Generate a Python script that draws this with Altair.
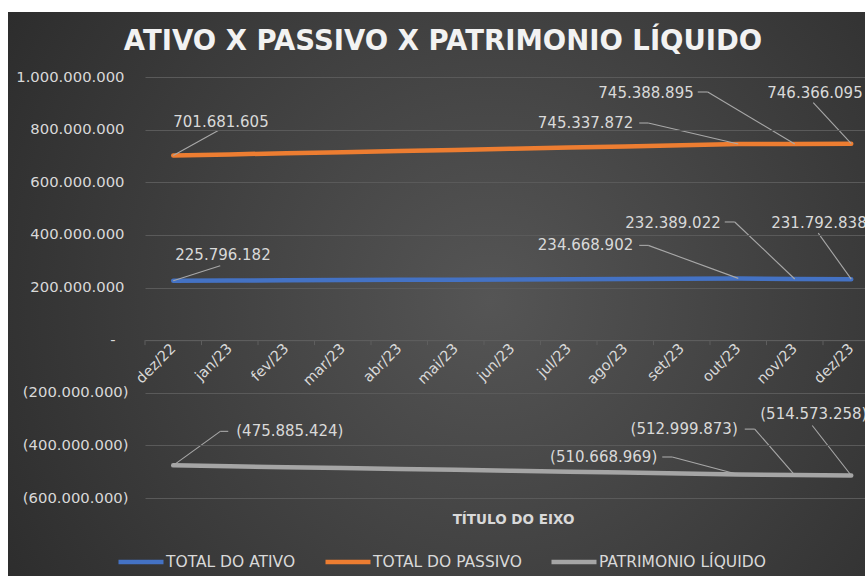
import altair as alt
import pandas as pd

# ---------------- data ----------------
meses = ["dez/22", "jan/23", "fev/23", "mar/23", "abr/23", "mai/23", "jun/23",
         "jul/23", "ago/23", "set/23", "out/23", "nov/23", "dez/23"]
total_ativo = [225796182, 226600000, 227400000, 228300000, 229100000, 229900000,
               230800000, 231700000, 232600000, 233700000, 234668902, 232389022, 231792838]
total_passivo = [701681605, 705900000, 710200000, 714100000, 718600000, 722800000,
                 727300000, 731600000, 736000000, 740700000, 745337872, 745388895, 746366095]
patrimonio_liquido = [-475885424, -479300000, -482800000, -485800000, -489500000, -492900000,
                      -496500000, -499900000, -503400000, -507000000, -510668969, -512999873, -514573258]
series = ["TOTAL DO ATIVO", "TOTAL DO PASSIVO", "PATRIMONIO LÍQUIDO"]
y_ticks = [-600000000, -400000000, -200000000, 0, 200000000, 400000000,
           600000000, 800000000, 1000000000]

# ---------------- styles / layout ----------------
colors = ["#4472C4", "#ED7D31", "#A5A5A5"]
FONT = "DejaVu Sans"
TXT = "#d9d9d9"
W, H = 720, 421
STEP = 56.5                     # px per category
XR = STEP * len(meses)          # full category range (extends past right edge)
Y0, Y1 = y_ticks[0], y_ticks[-1]
PXY = H / (Y1 - Y0)             # px per unit value
ZERO_PX = (Y1 - 0) * PXY

# data label placement (pixel offsets from the labelled point)
# (series index, month index, align, text dx, text dy, leader vertices)
label_layout = [
    (1, 0, "left", 0, -33.5, [(45, -25)]),
    (1, 10, "right", -105, -21, [(-90, -21), (-99, -21)]),
    (1, 11, "right", -101, -51, [(-87, -52), (-97, -52)]),
    (1, 12, "left", -84, -51, [(-38, -41)]),
    (0, 0, "left", 2, -26, [(47, -15)]),
    (0, 10, "right", -105, -33, [(-90, -33), (-99, -33)]),
    (0, 11, "right", -74, -56, [(-60, -57), (-70, -57)]),
    (0, 12, "left", -80, -56, [(-33, -46)]),
    (2, 0, "left", 63, -34, [(47, -34), (55, -34)]),
    (2, 10, "right", -81, -17.5, [(-66, -17.5), (-76, -17.5)]),
    (2, 11, "right", -57, -46, [(-40, -46), (-50, -46)]),
    (2, 12, "left", -91, -61.5, [(-39, -50)]),
]

values_by_series = [total_ativo, total_passivo, patrimonio_liquido]


def fmt_br(v):
    s = f"{abs(int(v)):,}".replace(",", ".")
    return f"({s})" if v < 0 else s


rows = []
for s, vals in zip(series, values_by_series):
    for i, v in enumerate(vals):
        rows.append({"idx": i, "mes": meses[i], "serie": s, "valor": v})
df_lines = pd.DataFrame(rows)

lab_rows, seg_rows = [], []
for si, mi, align, tdx, tdy, verts in label_layout:
    v = values_by_series[si][mi]
    lab_rows.append({"x": mi + tdx / STEP, "y": v - tdy / PXY,
                     "txt": fmt_br(v), "align": align})
    px, py = mi, v
    for dx, dy in verts:
        nx, ny = mi + dx / STEP, v - dy / PXY
        seg_rows.append({"x": px, "y": py, "x2": nx, "y2": ny})
        px, py = nx, ny
df_labels = pd.DataFrame(lab_rows)
df_segs = pd.DataFrame(seg_rows)
df_ticks = pd.DataFrame({"x": [i - 0.5 for i in range(len(meses) + 1)]})

# ---------------- scales / axes ----------------
xscale = alt.Scale(domain=[-0.5, len(meses) - 0.5], range=[0, XR], nice=False, zero=False)
yscale = alt.Scale(domain=[Y0, Y1], nice=False, zero=False)

month_js = "[" + ",".join(f"'{m}'" for m in meses) + "]"
xaxis = alt.Axis(values=list(range(len(meses))), labelExpr=f"{month_js}[datum.value]",
                 labelAngle=-45, labelAlign="right", labelBaseline="middle",
                 labelPadding=6, labelFont=FONT, labelFontSize=14.5, labelColor=TXT,
                 ticks=False, grid=False, domainColor="#5e5e5e", domainWidth=1,
                 offset=-(H - ZERO_PX), labelOverlap=False, zindex=1,
                 title="TÍTULO DO EIXO", titleFont=FONT, titleFontSize=13.5,
                 titleFontWeight="bold", titleColor=TXT, titleX=368, titleY=179,
                 titleBaseline="middle", titleAlign="center")

ylab = ("datum.value < 0 ? '(' + replace(format(-datum.value, ','), regexp(',', 'g'), '.') + ')' : "
        "datum.value == 0 ? '-' : "
        "replace(format(datum.value, ','), regexp(',', 'g'), '.')")
ypad = {"condition": [{"test": "datum.value < 0", "value": 17},
                      {"test": "datum.value == 0", "value": 30}],
        "value": 21}
yaxis = alt.Axis(values=y_ticks, labelExpr=ylab, labelFont=FONT, labelFontSize=14.8,
                 labelColor=TXT, labelPadding=ypad, domain=False, ticks=False, zindex=1,
                 grid=True, gridColor="#5a5a5a", gridWidth=1, title=None)

# ---------------- layers ----------------
one = pd.DataFrame({"k": [0]})

bg = alt.Chart(one).mark_rect(
    fill=alt.RadialGradient(
        gradient="radial",
        stops=[alt.GradientStop(color="#555555", offset=0),
               alt.GradientStop(color="#262626", offset=1)],
        x1=0.55, y1=0.5, r1=0, x2=0.55, y2=0.5, r2=0.75)
).encode(x=alt.value(8 - 145), x2=alt.value(W + 20),
         y=alt.value(12 - 77), y2=alt.value(H + 90))

ticks = alt.Chart(df_ticks).mark_rule(color="#5e5e5e", strokeWidth=1).encode(
    x=alt.X("x:Q", scale=xscale, axis=xaxis),
    y=alt.datum(0, scale=yscale, axis=yaxis),
    y2=alt.value(ZERO_PX + 5))

lines = alt.Chart(df_lines).mark_line(strokeWidth=4.5, strokeCap="round", strokeJoin="round").encode(
    x=alt.X("idx:Q", scale=xscale, axis=xaxis),
    y=alt.Y("valor:Q", scale=yscale, axis=yaxis),
    color=alt.Color("serie:N", sort=series,
                    scale=alt.Scale(domain=series, range=colors),
                    legend=alt.Legend(orient="none", legendX=-29, legendY=460,
                                      direction="horizontal", title=None,
                                      symbolType="stroke", symbolSize=2025,
                                      symbolStrokeWidth=4.5, labelFont=FONT,
                                      labelFontSize=15.5, labelColor=TXT, labelLimit=0,
                                      labelOffset=0, columnPadding=20, padding=0)),
    order="idx:Q")

leaders = alt.Chart(df_segs).mark_rule(color="#a8a8a8", strokeWidth=1.1).encode(
    x=alt.X("x:Q", scale=xscale, axis=xaxis),
    y=alt.Y("y:Q", scale=yscale, axis=yaxis),
    x2="x2:Q", y2="y2:Q")

lab_left = alt.Chart(df_labels).transform_filter("datum.align == 'left'").mark_text(
    align="left", baseline="middle", font=FONT, fontSize=15, color=TXT).encode(
    x=alt.X("x:Q", scale=xscale, axis=xaxis),
    y=alt.Y("y:Q", scale=yscale, axis=yaxis), text="txt:N")

lab_right = alt.Chart(df_labels).transform_filter("datum.align == 'right'").mark_text(
    align="right", baseline="middle", font=FONT, fontSize=15, color=TXT).encode(
    x=alt.X("x:Q", scale=xscale, axis=xaxis),
    y=alt.Y("y:Q", scale=yscale, axis=yaxis), text="txt:N")

title = alt.Chart(one).mark_text(
    text="ATIVO X PASSIVO X PATRIMONIO LÍQUIDO", align="center", baseline="alphabetic",
    font=FONT, fontSize=27.5, fontWeight="bold", color="#f2f2f2").encode(
    x=alt.value(443 - 145), y=alt.value(50 - 77))

chart = alt.layer(bg, ticks, lines, leaders, lab_left, lab_right, title).properties(
    width=W, height=H,
    padding={"left": 145, "top": 77, "right": 0, "bottom": 576 - 77 - H},
    autosize="none", background="white"
).configure_view(strokeWidth=0)

chart.save("out.html", embed_options={"renderer": "svg", "actions": False})
